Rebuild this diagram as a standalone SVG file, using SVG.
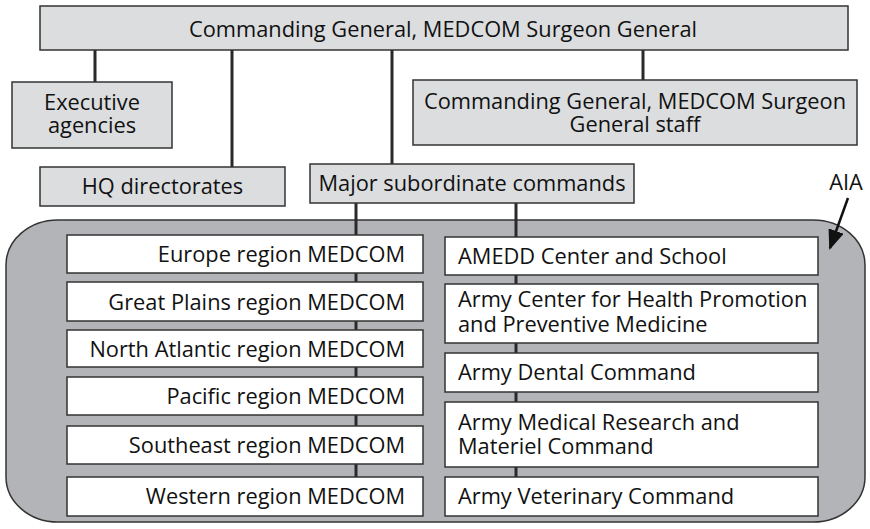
<svg xmlns="http://www.w3.org/2000/svg" width="870" height="529" viewBox="0 0 870 529">
<defs>
<style>
text{font-family:"Open Sans","Noto Sans","Liberation Sans",sans-serif;font-size:21.8px;fill:#111;}
.g{fill:#dcdddf;stroke:#333;stroke-width:1.5;}
.w{fill:#fff;stroke:#333;stroke-width:1.5;}
.c{stroke:#2a2a2a;stroke-width:3;fill:none;}
.m{text-anchor:middle;}
.r{text-anchor:end;}
</style>
<marker id="ah" viewBox="0 0 10 10" refX="9" refY="5" markerWidth="20" markerHeight="16" orient="auto" markerUnits="userSpaceOnUse" preserveAspectRatio="none">
<path d="M0,0 L10,5 L0,10 z" fill="#111"/>
</marker>
</defs>
<rect width="870" height="529" fill="#fff"/>
<g id="container">
<rect x="6" y="220" width="859" height="302" rx="52" ry="45" fill="#b3b4b7" stroke="#333" stroke-width="1.5"/>
</g>
<g id="connectors">
<line class="c" x1="95" y1="50" x2="95" y2="82"/>
<line class="c" x1="232" y1="50" x2="232" y2="167"/>
<line class="c" x1="392" y1="50" x2="392" y2="164"/>
<line class="c" x1="643" y1="50" x2="643" y2="80"/>
<line class="c" x1="356" y1="203" x2="356" y2="477"/>
<line class="c" x1="516" y1="203" x2="516" y2="477"/>
</g>
<g id="top"><rect class="g" x="40" y="6" width="808" height="44"/><text class="m" x="443" y="37">Commanding General, MEDCOM Surgeon General</text></g>
<g id="exec"><rect class="g" x="12" y="82" width="160" height="66"/><text class="m" x="92" y="110">Executive</text><text class="m" x="92" y="133">agencies</text></g>
<g id="staff"><rect class="g" x="413" y="80" width="444" height="65"/><text class="m" x="635" y="109">Commanding General, MEDCOM Surgeon</text><text class="m" x="635" y="132">General staff</text></g>
<g id="hq"><rect class="g" x="40" y="167" width="245" height="39"/><text class="m" x="162.5" y="194">HQ directorates</text></g>
<g id="msc"><rect class="g" x="310" y="164" width="324" height="39"/><text class="m" x="472" y="191">Major subordinate commands</text></g>
<g id="europe"><rect class="w" x="67" y="235" width="356" height="38"/><text class="r" x="405" y="262">Europe region MEDCOM</text></g>
<g id="greatplains"><rect class="w" x="67" y="282" width="356" height="39"/><text class="r" x="405" y="310">Great Plains region MEDCOM</text></g>
<g id="northatlantic"><rect class="w" x="67" y="330" width="356" height="37"/><text class="r" x="405" y="357">North Atlantic region MEDCOM</text></g>
<g id="pacific"><rect class="w" x="67" y="377" width="356" height="38"/><text class="r" x="405" y="404">Pacific region MEDCOM</text></g>
<g id="southeast"><rect class="w" x="67" y="426" width="356" height="38"/><text class="r" x="405" y="453">Southeast region MEDCOM</text></g>
<g id="western"><rect class="w" x="67" y="477" width="356" height="39"/><text class="r" x="405" y="504">Western region MEDCOM</text></g>
<g id="amedd"><rect class="w" x="445" y="237" width="373" height="38"/><text x="458" y="264">AMEDD Center and School</text></g>
<g id="achppm"><rect class="w" x="445" y="284" width="373" height="59"/><text x="458" y="307">Army Center for Health Promotion</text><text x="458" y="332">and Preventive Medicine</text></g>
<g id="dental"><rect class="w" x="445" y="353" width="373" height="39"/><text x="458" y="380">Army Dental Command</text></g>
<g id="mrmc"><rect class="w" x="445" y="402" width="373" height="65"/><text x="458" y="430">Army Medical Research and</text><text x="458" y="454">Materiel Command</text></g>
<g id="vet"><rect class="w" x="445" y="477" width="373" height="39"/><text x="458" y="504">Army Veterinary Command</text></g>
<g id="aia"><text x="846" y="190" class="m">AIA</text><line x1="848" y1="198" x2="830" y2="248" stroke="#111" stroke-width="2.5" marker-end="url(#ah)"/></g>
</svg>
